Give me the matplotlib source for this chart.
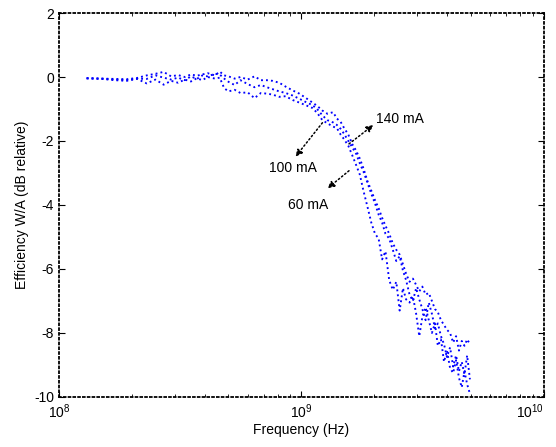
import matplotlib
matplotlib.use("Agg")
import matplotlib.pyplot as plt

plt.rcParams['font.family'] = ['Liberation Sans', 'DejaVu Sans']
plt.rcParams['mathtext.fontset'] = 'custom'
plt.rcParams['mathtext.rm'] = 'Liberation Sans'
plt.rcParams['mathtext.it'] = 'Liberation Sans:italic'
plt.rcParams['mathtext.bf'] = 'Liberation Sans:bold'
plt.rcParams['axes.unicode_minus'] = False

# frequency in GHz
freq_ghz = [
    0.13, 0.15, 0.17, 0.19, 0.21,
    0.23, 0.25, 0.27, 0.29, 0.31,
    0.33, 0.35, 0.37, 0.39, 0.41,
    0.44, 0.46, 0.48, 0.50, 0.53,
    0.56, 0.60, 0.64, 0.68, 0.72,
    0.76, 0.81, 0.86, 0.92, 0.98,
    1.04, 1.11, 1.16, 1.22, 1.28,
    1.35, 1.40, 1.45, 1.50, 1.56,
    1.62, 1.68, 1.74, 1.80, 1.87,
    1.94, 2.01, 2.08, 2.15, 2.22,
    2.30, 2.38, 2.46, 2.54, 2.62,
    2.70, 2.79, 2.88, 2.97, 3.06,
    3.15, 3.25, 3.35, 3.45, 3.55,
    3.65, 3.76, 3.87, 3.98, 4.10,
    4.22, 4.34, 4.46, 4.58, 4.70,
    4.82, 4.95,
]

eff_60ma = [
    -0.04, -0.06, -0.10, -0.12, -0.06,
    -0.20, -0.08, -0.24, -0.12, -0.18,
    -0.08, -0.14, -0.04, -0.10, 0.00,
    -0.05, -0.02, -0.35, -0.45, -0.40,
    -0.50, -0.48, -0.66, -0.50, -0.52,
    -0.55, -0.62, -0.60, -0.72, -0.80,
    -0.88, -0.97, -1.12, -1.35, -1.45,
    -1.55, -1.60, -1.80, -1.95, -2.15,
    -2.45, -2.75, -3.05, -3.55, -4.05,
    -4.55, -4.90, -5.05, -5.70, -5.45,
    -6.35, -6.65, -6.40, -7.30, -6.60,
    -6.95, -7.05, -6.85, -7.40, -8.10,
    -7.50, -7.20, -7.60, -8.00, -7.70,
    -8.40, -8.20, -8.90, -8.55, -9.10,
    -9.25, -8.85, -9.40, -9.70, -9.20,
    -9.60, -9.90,
]

eff_100ma = [
    -0.04, -0.05, -0.08, -0.09, -0.05,
    -0.06, 0.05, -0.02, -0.08, -0.02,
    -0.10, 0.02, -0.06, 0.05, 0.02,
    0.10, 0.08, -0.05, -0.15, -0.25,
    -0.10, -0.22, -0.32, -0.25, -0.32,
    -0.38, -0.45, -0.50, -0.58, -0.68,
    -0.78, -0.88, -1.00, -1.20, -1.35,
    -1.42, -1.50, -1.62, -1.78, -2.00,
    -2.20, -2.40, -2.70, -2.95, -3.30,
    -3.65, -3.95, -4.30, -4.55, -4.90,
    -5.05, -5.40, -5.75, -5.60, -6.05,
    -6.35, -6.80, -7.00, -6.60, -6.95,
    -7.25, -7.60, -7.05, -7.40, -7.85,
    -7.70, -8.10, -8.35, -8.75, -8.45,
    -9.05, -8.70, -9.20, -8.90, -9.30,
    -8.70, -9.45,
]

eff_140ma = [
    -0.04, -0.05, -0.06, -0.07, -0.03,
    0.05, 0.10, 0.16, 0.02, 0.06,
    0.00, 0.08, 0.04, 0.08, 0.12,
    0.05, 0.17, 0.05, 0.02, -0.05,
    0.00, -0.08, 0.02, -0.10, -0.10,
    -0.12, -0.18, -0.30, -0.42, -0.52,
    -0.65, -0.80, -0.90, -1.05, -1.15,
    -1.10, -1.30, -1.40, -1.60, -1.80,
    -2.10, -2.30, -2.55, -2.85, -3.25,
    -3.55, -3.85, -4.10, -4.40, -4.65,
    -4.90, -5.20, -5.40, -5.55, -5.85,
    -6.15, -6.40, -6.30, -6.50, -6.70,
    -6.55, -6.80, -6.75, -7.00, -7.25,
    -7.35, -7.60, -7.75, -7.90, -8.00,
    -8.30, -8.10, -8.55, -8.25, -8.40,
    -8.20, -8.35,
]

freq_hz = [f * 1e9 for f in freq_ghz]

fig = plt.figure(figsize=(5.56, 4.47), dpi=100)
ax = fig.add_axes([0.1061, 0.1119, 0.8723, 0.859])

for series in (eff_60ma, eff_100ma, eff_140ma):
    ax.plot(freq_hz, series, linestyle=':', color='#0000ff', linewidth=1.35)

ax.set_xscale('log')
ax.set_xlim(1e8, 1e10)
ax.set_ylim(-10, 2)
ax.set_yticks([-10, -8, -6, -4, -2, 0, 2])
ax.set_xticks([1e8, 1e9, 1e10])

for sp in ax.spines.values():
    sp.set_linestyle(':')
    sp.set_linewidth(1.3)

ax.tick_params(axis='both', which='both', direction='in', top=True, right=True,
               labelsize=10, colors='black')
ax.tick_params(which='major', length=4)
ax.tick_params(which='minor', length=2.5)
ax.tick_params(axis='x', pad=4)

# keep the 10^10 label inside the canvas
xlabels = ax.get_xticklabels()
xlabels[-1].set_horizontalalignment('right')
xlabels[-1].set_x(1.0)

ax.set_xlabel('Frequency (Hz)', fontsize=10, labelpad=1)
ax.set_ylabel('Efficiency W/A (dB relative)', fontsize=10, labelpad=4)

arrow = dict(arrowstyle='-|>', linestyle=':', color='black', lw=1.1,
             mutation_scale=10, shrinkA=0, shrinkB=0)
ax.annotate('', xy=(1.98e9, -1.5), xytext=(1.57e9, -2.09), arrowprops=arrow)
ax.annotate('', xy=(0.945e9, -2.49), xytext=(1.22e9, -1.43), arrowprops=arrow)
ax.annotate('', xy=(1.28e9, -3.48), xytext=(1.57e9, -2.93), arrowprops=arrow)
ax.text(2.03e9, -1.3, '140 mA', fontsize=10, va='center', ha='left')
ax.text(0.922e9, -2.83, '100 mA', fontsize=10, va='center', ha='center')
ax.text(1.07e9, -4.0, '60 mA', fontsize=10, va='center', ha='center')

fig.savefig('out.png', dpi=100)
